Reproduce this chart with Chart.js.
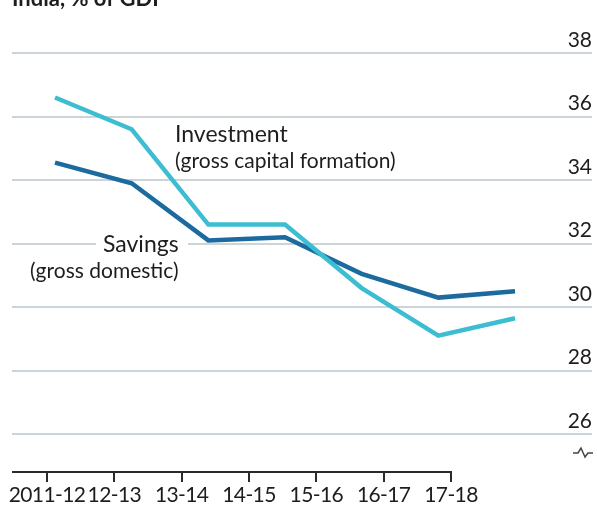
<!DOCTYPE html>
<html>
<head>
<meta charset="utf-8">
<script src="https://cdn.jsdelivr.net/npm/chart.js@4.4.1/dist/chart.umd.min.js"></script>
<style>
  html, body { margin: 0; padding: 0; background: #fff; }
  #wrap { width: 597px; height: 511px; position: relative; }
</style>
</head>
<body>
<div id="wrap"><canvas id="chart" width="597" height="511"></canvas></div>
<script>
// India, % of GDP
const periods = ['2011-12', '12-13', '13-14', '14-15', '15-16', '16-17', '17-18'];
const investment = [36.6, 35.6, 32.6, 32.6, 30.6, 29.1, 29.65];
const savings = [34.55, 33.9, 32.1, 32.2, 31.05, 30.3, 30.5];
const yTicks = [26, 28, 30, 32, 34, 36, 38];

const FONT = 'Lato, "Liberation Sans", sans-serif';
const INK = '#1d1d1b';

// the plotted lines sit a bit right of the printed period ticks in the original
const toPoints = arr => arr.map((v, i) => ({ x: i, y: v }));

// period labels are set tighter than Lato's default spacing
const tightLabels = {
  id: 'tightLabels',
  beforeDraw(chart) {
    const s = chart.scales.x2;
    if (s._tight) return;
    const orig = s.drawLabels;
    s.drawLabels = function(area) {
      this.ctx.save();
      this.ctx.letterSpacing = '-0.6px';
      orig.call(this, area);
      this.ctx.restore();
    };
    s._tight = true;
  }
};

const decorations = {
  id: 'decorations',
  beforeDatasetsDraw(chart) {
    const { ctx, chartArea } = chart;
    const x2 = chart.scales.x2;
    ctx.save();

    // title, mostly cropped off the top
    ctx.fillStyle = INK;
    ctx.font = 'bold 22px ' + FONT;
    ctx.textBaseline = 'alphabetic';
    ctx.textAlign = 'left';
    ctx.fillText('India, % of GDP', 12, 6);

    // bottom axis line, only under the periods
    ctx.strokeStyle = '#2b2b2b';
    ctx.lineWidth = 2;
    ctx.beginPath();
    ctx.moveTo(chartArea.left, chartArea.bottom);
    ctx.lineTo(x2.getPixelForValue(periods.length - 1) + 1, chartArea.bottom);
    ctx.stroke();

    // axis break mark
    ctx.strokeStyle = '#444';
    ctx.lineWidth = 1.5;
    ctx.beginPath();
    ctx.moveTo(573, 453);
    ctx.lineTo(578, 453);
    ctx.lineTo(581, 448);
    ctx.lineTo(585, 457);
    ctx.lineTo(588, 453);
    ctx.lineTo(593, 453);
    ctx.stroke();

    // series labels
    ctx.textAlign = 'left';
    ctx.fillStyle = INK;
    ctx.font = '23px ' + FONT;
    ctx.fillText('Investment', 175, 142);
    ctx.font = '21px ' + FONT;
    ctx.fillText('(gross capital formation)', 175, 168);

    ctx.font = '23px ' + FONT;
    ctx.fillStyle = '#fff';
    ctx.fillRect(96, 230, 92, 26);
    ctx.fillStyle = INK;
    ctx.fillText('Savings', 103, 252);
    ctx.font = '21px ' + FONT;
    ctx.fillText('(gross domestic)', 30, 278);

    ctx.restore();
  }
};

new Chart(document.getElementById('chart'), {
  type: 'line',
  data: {
    datasets: [
      {
        label: 'Investment',
        data: toPoints(investment),
        borderColor: '#3dbdd2',
        borderWidth: 4.5,
        pointRadius: 0,
        tension: 0,
        fill: false,
        xAxisID: 'x',
        yAxisID: 'y'
      },
      {
        label: 'Savings',
        data: toPoints(savings),
        borderColor: '#1b6b9e',
        borderWidth: 4.5,
        pointRadius: 0,
        tension: 0,
        fill: false,
        xAxisID: 'x',
        yAxisID: 'y'
      }
    ]
  },
  options: {
    responsive: false,
    animation: false,
    layout: { padding: { left: 12, right: 5, top: 53, bottom: 2 } },
    scales: {
      x: {
        type: 'linear',
        display: false,
        min: -0.561,
        max: 7.004
      },
      x2: {
        type: 'linear',
        position: 'bottom',
        min: -0.52,
        max: 8.094,
        afterBuildTicks: axis => { axis.ticks = periods.map((p, i) => ({ value: i })); },
        border: { display: false },
        grid: {
          drawOnChartArea: false,
          drawTicks: true,
          tickLength: 10,
          color: '#2b2b2b',
          lineWidth: 2
        },
        ticks: {
          autoSkip: false,
          maxRotation: 0,
          padding: 3,
          color: INK,
          font: { family: FONT, size: 21, lineHeight: 1 },
          callback: v => periods[v]
        }
      },
      y: {
        position: 'right',
        min: 24.81,
        max: 38,
        afterBuildTicks: axis => { axis.ticks = yTicks.map(v => ({ value: v })); },
        border: { display: false },
        grid: {
          color: '#ccd3d9',
          lineWidth: 2,
          drawTicks: false,
          tickLength: 0
        },
        ticks: {
          mirror: true,
          padding: 0,
          labelOffset: -13,
          color: INK,
          font: { family: FONT, size: 21 }
        }
      }
    },
    plugins: {
      legend: { display: false },
      tooltip: { enabled: false }
    }
  },
  plugins: [tightLabels, decorations]
});
</script>
</body>
</html>
